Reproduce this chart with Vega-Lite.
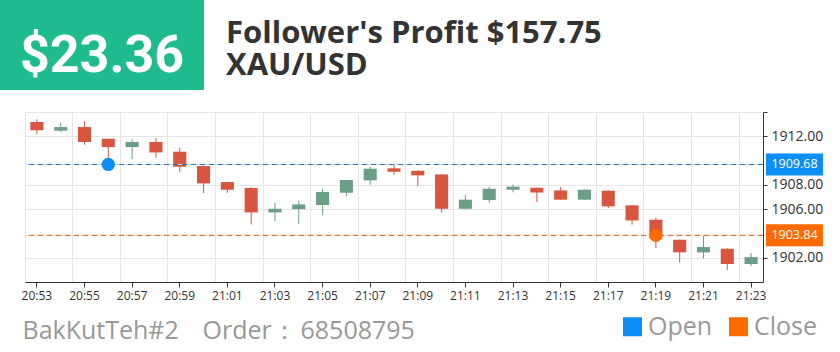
{
  "$schema": "https://vega.github.io/schema/vega-lite/v6.json",
  "background": "white",
  "padding": {"top": 0, "left": 0, "right": 0, "bottom": 8},
  "spacing": 21,
  "config": {
    "view": {"stroke": null},
    "font": "Open Sans",
    "axis": {"labelFont": "Open Sans", "titleFont": "Open Sans"},
    "legend": {"labelFont": "Open Sans"}
  },
  "datasets": {
    "candles": [
      {"t": "20:53", "o": 1913.17, "h": 1913.39, "l": 1912.16, "c": 1912.49},
      {"t": "20:54", "o": 1912.46, "h": 1913.12, "l": 1912.35, "c": 1912.76},
      {"t": "20:55", "o": 1912.76, "h": 1913.23, "l": 1911.31, "c": 1911.53},
      {"t": "20:56", "o": 1911.80, "h": 1911.80, "l": 1909.60, "c": 1911.11},
      {"t": "20:57", "o": 1911.11, "h": 1911.75, "l": 1910.10, "c": 1911.53},
      {"t": "20:58", "o": 1911.53, "h": 1911.86, "l": 1910.24, "c": 1910.67},
      {"t": "20:59", "o": 1910.73, "h": 1911.06, "l": 1909.06, "c": 1909.49},
      {"t": "21:00", "o": 1909.55, "h": 1909.60, "l": 1907.33, "c": 1908.12},
      {"t": "21:01", "o": 1908.23, "h": 1908.25, "l": 1907.35, "c": 1907.60},
      {"t": "21:02", "o": 1907.74, "h": 1907.82, "l": 1904.74, "c": 1905.73},
      {"t": "21:03", "o": 1905.73, "h": 1906.50, "l": 1905.02, "c": 1906.03},
      {"t": "21:04", "o": 1906.00, "h": 1906.72, "l": 1904.80, "c": 1906.39},
      {"t": "21:05", "o": 1906.34, "h": 1907.68, "l": 1905.49, "c": 1907.41},
      {"t": "21:06", "o": 1907.35, "h": 1908.42, "l": 1907.08, "c": 1908.40},
      {"t": "21:07", "o": 1908.37, "h": 1909.49, "l": 1908.01, "c": 1909.33},
      {"t": "21:08", "o": 1909.36, "h": 1909.66, "l": 1908.81, "c": 1909.08},
      {"t": "21:09", "o": 1909.16, "h": 1909.18, "l": 1907.87, "c": 1908.78},
      {"t": "21:10", "o": 1908.86, "h": 1908.88, "l": 1905.73, "c": 1906.03},
      {"t": "21:11", "o": 1906.03, "h": 1907.19, "l": 1906.00, "c": 1906.78},
      {"t": "21:12", "o": 1906.75, "h": 1907.85, "l": 1906.53, "c": 1907.68},
      {"t": "21:13", "o": 1907.60, "h": 1908.01, "l": 1907.38, "c": 1907.85},
      {"t": "21:14", "o": 1907.76, "h": 1907.78, "l": 1906.58, "c": 1907.38},
      {"t": "21:15", "o": 1907.54, "h": 1907.82, "l": 1906.78, "c": 1906.78},
      {"t": "21:16", "o": 1906.78, "h": 1907.62, "l": 1906.76, "c": 1907.60},
      {"t": "21:17", "o": 1907.52, "h": 1907.54, "l": 1906.09, "c": 1906.23},
      {"t": "21:18", "o": 1906.31, "h": 1906.33, "l": 1904.72, "c": 1905.07},
      {"t": "21:19", "o": 1905.13, "h": 1905.27, "l": 1902.80, "c": 1903.60},
      {"t": "21:20", "o": 1903.48, "h": 1903.50, "l": 1901.61, "c": 1902.44},
      {"t": "21:21", "o": 1902.44, "h": 1903.89, "l": 1901.94, "c": 1902.88},
      {"t": "21:22", "o": 1902.74, "h": 1902.76, "l": 1900.98, "c": 1901.48},
      {"t": "21:23", "o": 1901.48, "h": 1902.38, "l": 1901.31, "c": 1902.05}
    ],
    "markers": [
      {"type": "Open", "t": "20:56", "price": 1909.68},
      {"type": "Close", "t": "21:19", "price": 1903.84}
    ]
  },
  "vconcat": [
    {
      "spacing": 0,
      "hconcat": [
        {
          "width": 204,
          "height": 90,
          "view": {"fill": "#1dbb8e", "stroke": null},
          "data": {"values": [{"profit": "$23.36"}]},
          "mark": {"type": "text", "font": "Roboto", "fontWeight": "bold", "fontSize": 52, "color": "#ffffff", "baseline": "alphabetic", "dy": 27},
          "encoding": {"text": {"field": "profit", "type": "nominal"}}
        },
        {
          "width": 636,
          "height": 1,
          "data": {"values": []},
          "mark": "point",
          "title": {
            "text": ["Follower's Profit $157.75", "XAU/USD"],
            "orient": "bottom",
            "anchor": "start",
            "frame": "group",
            "offset": 18,
            "dx": 22,
            "font": "Open Sans",
            "fontSize": 31,
            "fontWeight": "bold",
            "color": "#333333",
            "lineHeight": 32,
            "baseline": "top"
          }
        }
      ]
    },
    {
      "spacing": 0,
      "hconcat": [
        {"width": 21, "height": 170, "data": {"values": []}, "mark": "point"},
        {
          "width": 738,
          "height": 170,
          "data": {"name": "candles"},
          "resolve": {"axis": {"x": "independent"}},
          "layer": [
            {
              "mark": {"type": "rule", "strokeWidth": 1},
              "encoding": {
                "x": {
                  "field": "t", "type": "ordinal", "sort": null,
                  "scale": {"type": "band", "paddingInner": 0, "paddingOuter": 0},
                  "axis": {
                    "orient": "top",
                    "values": ["20:53","20:55","20:57","20:59","21:01","21:03","21:05","21:07","21:09","21:11","21:13","21:15","21:17","21:19","21:21","21:23"],
                    "bandPosition": 0,
                    "grid": true, "gridColor": "#e6e6e6",
                    "labels": false, "ticks": false, "domain": false,
                    "title": "Order：",
                    "titleFontSize": 25, "titleFontWeight": "normal", "titleColor": "#999999",
                    "titleAlign": "left", "titleBaseline": "alphabetic", "titleX": 177, "titleY": 226
                  }
                },
                "y": {
                  "field": "l", "type": "quantitative",
                  "scale": {"domain": [1900, 1914], "nice": false, "zero": false},
                  "axis": {
                    "orient": "right",
                    "values": [1902, 1906, 1908, 1912, 1914],
                    "format": ".2f",
                    "labelExpr": "datum.value > 1913 ? '' : datum.label",
                    "grid": true, "gridColor": "#e6e6e6",
                    "domainColor": "#333333", "tickColor": "#333333", "tickSize": 4,
                    "labelColor": "#333333", "labelFontSize": 14, "labelPadding": 4,
                    "title": "68508795",
                    "titleAngle": 0, "titleFontSize": 25, "titleFontWeight": "normal", "titleColor": "#999999",
                    "titleAlign": "left", "titleBaseline": "alphabetic", "titleX": -463, "titleY": 226
                  }
                },
                "y2": {"field": "h"},
                "color": {"condition": {"test": "datum.c >= datum.o", "value": "#6b9e86"}, "value": "#d8553f"}
              }
            },
            {
              "mark": {"type": "bar", "width": {"band": 0.55}},
              "encoding": {
                "x": {
                  "field": "t", "type": "ordinal", "sort": null,
                  "axis": {
                    "orient": "bottom",
                    "values": ["20:53","20:55","20:57","20:59","21:01","21:03","21:05","21:07","21:09","21:11","21:13","21:15","21:17","21:19","21:21","21:23"],
                    "grid": false,
                    "domainColor": "#333333", "tickColor": "#333333", "tickSize": 5,
                    "labelColor": "#333333", "labelFontSize": 12, "labelPadding": 3, "labelAngle": 0,
                    "title": "BakKutTeh#2",
                    "titleFontSize": 25, "titleFontWeight": "normal", "titleColor": "#999999",
                    "titleAlign": "left", "titleBaseline": "alphabetic", "titleX": -3, "titleY": 56
                  }
                },
                "y": {"field": "o", "type": "quantitative"},
                "y2": {"field": "c"},
                "color": {"condition": {"test": "datum.c >= datum.o", "value": "#6b9e86"}, "value": "#d8553f"}
              }
            },
            {
              "data": {"name": "markers"},
              "mark": {"type": "rule", "strokeWidth": 1},
              "encoding": {
                "y": {"field": "price", "type": "quantitative"},
                "color": {"condition": {"test": "datum.type === 'Open'", "value": "#b8dcff"}, "value": "#ffd6b8"}
              }
            },
            {
              "data": {"name": "markers"},
              "mark": {"type": "rule", "strokeWidth": 1, "strokeDash": [5, 4]},
              "encoding": {
                "y": {"field": "price", "type": "quantitative"},
                "color": {"condition": {"test": "datum.type === 'Open'", "value": "#3a6ea8"}, "value": "#c0683a"}
              }
            },
            {
              "data": {"name": "markers"},
              "mark": {"type": "point", "shape": "circle", "filled": true, "size": 177, "opacity": 1},
              "encoding": {
                "x": {"field": "t", "type": "ordinal", "axis": null},
                "y": {"field": "price", "type": "quantitative"},
                "color": {
                  "field": "type", "type": "nominal",
                  "scale": {"domain": ["Open", "Close"], "range": ["#0d8ef7", "#ff6a00"]},
                  "legend": {
                    "orient": "none", "legendX": 620, "legendY": 314,
                    "direction": "horizontal", "title": null,
                    "symbolType": "square", "symbolSize": 361, "symbolStrokeWidth": 0, "symbolOpacity": 1,
                    "labelFontSize": 25, "labelColor": "#999999", "labelFont": "Open Sans",
                    "labelOffset": 3, "columnPadding": 13, "padding": 0
                  }
                }
              }
            },
            {
              "data": {"name": "markers"},
              "mark": {"type": "point", "shape": "M-1,-0.386L1,-0.386L1,0.386L-1,0.386Z", "filled": true, "size": 3249, "opacity": 1, "strokeWidth": 0, "xOffset": 43.4},
              "encoding": {
                "x": {"datum": "21:23", "type": "ordinal", "axis": null},
                "y": {"field": "price", "type": "quantitative"},
                "color": {"field": "type", "type": "nominal"}
              }
            },
            {
              "data": {"name": "markers"},
              "mark": {"type": "text", "color": "#ffffff", "fontSize": 12.5, "font": "Open Sans", "dx": 43.4, "align": "center", "baseline": "middle"},
              "encoding": {
                "x": {"datum": "21:23", "type": "ordinal", "axis": null},
                "y": {"field": "price", "type": "quantitative"},
                "text": {"field": "price", "type": "quantitative", "format": ".2f"}
              }
            }
          ]
        }
      ]
    }
  ]
}
